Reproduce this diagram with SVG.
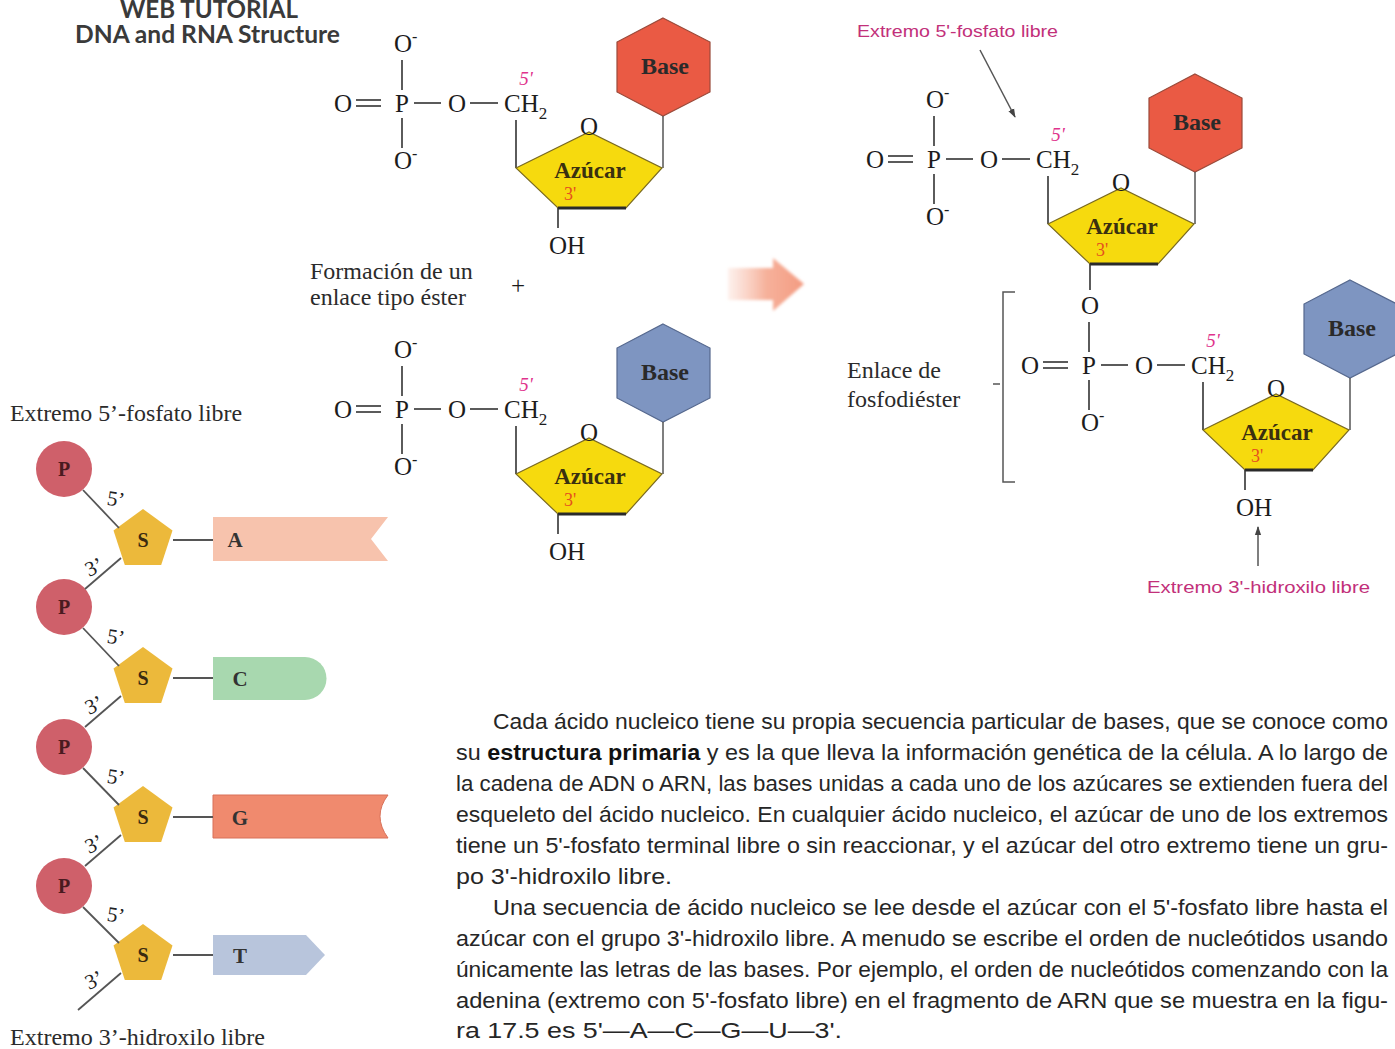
<svg xmlns="http://www.w3.org/2000/svg" xmlns:xlink="http://www.w3.org/1999/xlink" width="1395" height="1049" viewBox="0 0 1395 1049">
  <style>
    .chem { font-family: "Liberation Serif", serif; font-size: 25px; fill: #1c1c1c; }
    .mid { text-anchor: middle; }
    .bond { stroke: #333; stroke-width: 1.6; fill: none; }
    .thin { stroke: #555; stroke-width: 1.5; fill: none; }
    .sugar { fill: #F6DA0E; stroke: #7a6a20; stroke-width: 1.2; }
    .sugarEdge { stroke: #2a2a2a; stroke-width: 3.2; }
    .hexRed { fill: #EA5A44; stroke: #9a4a3a; stroke-width: 1.2; }
    .hexBlue { fill: #7E95C1; stroke: #55688e; stroke-width: 1.2; }
    .baseTxt { font-family: "Liberation Serif", serif; font-weight: bold; font-size: 24px; fill: #2a2a2a; text-anchor: middle; }
    .azu { font-family: "Liberation Serif", serif; font-weight: bold; font-size: 23px; fill: #3a3010; text-anchor: middle; }
    .five { font-family: "Liberation Serif", serif; font-style: italic; font-size: 19px; fill: #E0338C; text-anchor: middle; }
    .three { font-family: "Liberation Serif", serif; font-size: 18px; fill: #E5501E; text-anchor: middle; }
    .note { font-family: "Liberation Serif", serif; font-size: 24px; fill: #2b2b2b; }
    .magenta { font-family: "Liberation Sans", sans-serif; font-size: 17px; fill: #C2307A; }
    .head { font-family: Lato, "Liberation Sans", sans-serif; font-weight: bold; font-size: 24px; fill: #3a3a3a; }
    .body { font-family: "Liberation Sans", sans-serif; font-size: 22px; fill: #262626; }
    .pCircle { fill: #CF606A; }
    .sPent { fill: #ECB93B; }
    .chainTxt { font-family: "Liberation Serif", serif; font-weight: bold; font-size: 20px; text-anchor: middle; }
    .chainLbl { font-family: "Liberation Serif", serif; font-size: 21px; fill: #222; text-anchor: middle; }
    .backbone { stroke: #555; stroke-width: 1.8; fill: none; }
    .baseLbl { font-family: "Liberation Serif", serif; font-weight: bold; font-size: 21px; fill: #333; text-anchor: middle; }
  </style>
  <defs>
    <marker id="arrowHead" viewBox="0 0 10 10" refX="9" refY="5" markerWidth="6" markerHeight="6" orient="auto">
      <path d="M0,1.5 L10,5 L0,8.5 z" fill="#444"/>
    </marker>
    <linearGradient id="arrowFade" x1="728" y1="0" x2="805" y2="0" gradientUnits="userSpaceOnUse">
      <stop offset="0" stop-color="#F7B8A4" stop-opacity="0.2"/>
      <stop offset="0.5" stop-color="#F5A88F" stop-opacity="0.9"/>
      <stop offset="1" stop-color="#F39A80"/>
    </linearGradient>
    <filter id="soft" x="-10%" y="-10%" width="120%" height="120%">
      <feGaussianBlur stdDeviation="1.4"/>
    </filter>

    <!-- phosphate row: O=P-O-CH2 with the lower O- and the 5' mark -->
    <g id="phosRow" class="chem">
      <text class="mid" x="343" y="112">O</text>
      <line class="bond" x1="356" y1="100" x2="381" y2="100"/>
      <line class="bond" x1="356" y1="106" x2="381" y2="106"/>
      <text class="mid" x="402" y="112">P</text>
      <line class="bond" x1="414" y1="103" x2="441" y2="103"/>
      <text class="mid" x="457" y="112">O</text>
      <line class="bond" x1="470" y1="103" x2="498" y2="103"/>
      <text x="504" y="112">CH<tspan font-size="17" dy="7">2</tspan></text>
      <line class="bond" x1="402" y1="60" x2="402" y2="90"/>
      <line class="bond" x1="402" y1="118" x2="402" y2="148"/>
      <text x="394" y="169">O<tspan font-size="16" dy="-10">-</tspan></text>
      <text class="five" x="526" y="85">5'</text>
    </g>

    <!-- sugar ring with ring oxygen, 3' mark and the stub to the base -->
    <g id="sugarRing">
      <line class="bond" x1="516" y1="120" x2="516" y2="168"/>
      <line class="thin" x1="663" y1="116" x2="663" y2="168"/>
      <polygon class="sugar" points="516,168 589,132 662,168 626,208 558,208"/>
      <line class="sugarEdge" x1="558" y1="208" x2="626" y2="208"/>
      <text class="chem mid" x="589" y="135" font-size="22">O</text>
      <text class="azu" x="590" y="178">Azúcar</text>
      <text class="three" x="570" y="200">3'</text>
    </g>

    <polygon id="hexShape" points="663,18 710,42 710,92 663,116 617,92 617,42"/>
    <polygon id="pentS" points="0,-31 29.5,-9.6 18.2,25.1 -18.2,25.1 -29.5,-9.6"/>
  </defs>

  <rect width="1395" height="1049" fill="#ffffff"/>

  <!-- tutorial header -->
  <g id="header">
    <text class="head" x="120" y="18" font-size="19" textLength="178" lengthAdjust="spacingAndGlyphs">WEB TUTORIAL</text>
    <text class="head" x="75" y="43" textLength="265" lengthAdjust="spacingAndGlyphs">DNA and RNA Structure</text>
  </g>

  <!-- first free nucleotide (red base) -->
  <g id="nucleotide-top">
    <text class="chem" x="394" y="52">O<tspan font-size="16" dy="-10">-</tspan></text>
    <use xlink:href="#phosRow"/>
    <use xlink:href="#hexShape" class="hexRed"/>
    <use xlink:href="#sugarRing"/>
    <text class="baseTxt" x="665" y="74">Base</text>
    <line class="bond" x1="558" y1="208" x2="558" y2="228"/>
    <text class="chem mid" x="567" y="254">OH</text>
  </g>

  <!-- reaction label -->
  <g id="ester-label">
    <text class="note" x="310" y="279">Formación de un</text>
    <text class="note" x="310" y="305">enlace tipo éster</text>
    <text class="chem mid" x="518" y="294" font-size="22">+</text>
  </g>

  <!-- second free nucleotide (blue base) -->
  <g id="nucleotide-bottom" transform="translate(0,306)">
    <text class="chem" x="394" y="52">O<tspan font-size="16" dy="-10">-</tspan></text>
    <use xlink:href="#phosRow"/>
    <use xlink:href="#hexShape" class="hexBlue"/>
    <use xlink:href="#sugarRing"/>
    <text class="baseTxt" x="665" y="74">Base</text>
    <line class="bond" x1="558" y1="208" x2="558" y2="228"/>
    <text class="chem mid" x="567" y="254">OH</text>
  </g>

  <!-- reaction arrow -->
  <g id="reaction-arrow" filter="url(#soft)">
    <path d="M728,268 H773 V258 L804,284 L773,311 V300 H728 Z" fill="url(#arrowFade)"/>
  </g>

  <!-- dinucleotide: 5' unit -->
  <g id="dinucleotide-5prime" transform="translate(532,56)">
    <text class="chem" x="394" y="52">O<tspan font-size="16" dy="-10">-</tspan></text>
    <use xlink:href="#phosRow"/>
    <use xlink:href="#hexShape" class="hexRed"/>
    <use xlink:href="#sugarRing"/>
    <text class="baseTxt" x="665" y="74">Base</text>
  </g>

  <!-- dinucleotide: 3' unit -->
  <g id="dinucleotide-3prime" transform="translate(687,262)">
    <text class="chem mid" x="403" y="52">O</text>
    <use xlink:href="#phosRow"/>
    <use xlink:href="#hexShape" class="hexBlue"/>
    <use xlink:href="#sugarRing"/>
    <text class="baseTxt" x="665" y="74">Base</text>
    <line class="bond" x1="558" y1="208" x2="558" y2="228"/>
    <text class="chem mid" x="567" y="254">OH</text>
  </g>

  <!-- phosphodiester bracket and labels -->
  <g id="phosphodiester-label">
    <path class="thin" d="M1015,292 H1003 V482 H1015"/>
    <line class="thin" x1="993" y1="384" x2="1000" y2="384"/>
    <text class="note" x="847" y="378">Enlace de</text>
    <text class="note" x="847" y="407">fosfodiéster</text>
  </g>

  <g id="end-labels-right">
    <text class="magenta" x="857" y="37" textLength="201" lengthAdjust="spacingAndGlyphs">Extremo 5'-fosfato libre</text>
    <text class="magenta" x="1147" y="593" textLength="223" lengthAdjust="spacingAndGlyphs">Extremo 3'-hidroxilo libre</text>
  </g>

  <!-- strand schematic -->
  <g id="strand-labels">
    <text class="note" x="10" y="421" font-size="23" textLength="232" lengthAdjust="spacingAndGlyphs">Extremo 5’-fosfato libre</text>
    <text class="note" x="10" y="1045" font-size="23" textLength="255" lengthAdjust="spacingAndGlyphs">Extremo 3’-hidroxilo libre</text>
  </g>

  <g id="phosphate-1"><circle class="pCircle" cx="64" cy="469" r="28"/><text class="chainTxt" x="64" y="476" fill="#4a1a20">P</text></g>
  <g id="phosphate-2"><circle class="pCircle" cx="64" cy="607" r="28"/><text class="chainTxt" x="64" y="614" fill="#4a1a20">P</text></g>
  <g id="phosphate-3"><circle class="pCircle" cx="64" cy="747" r="28"/><text class="chainTxt" x="64" y="754" fill="#4a1a20">P</text></g>
  <g id="phosphate-4"><circle class="pCircle" cx="64" cy="886" r="28"/><text class="chainTxt" x="64" y="893" fill="#4a1a20">P</text></g>

  <g id="sugar-1"><use xlink:href="#pentS" class="sPent" transform="translate(143,540)"/><text class="chainTxt" x="143" y="547" fill="#3a2a10">S</text></g>
  <g id="sugar-2"><use xlink:href="#pentS" class="sPent" transform="translate(143,678)"/><text class="chainTxt" x="143" y="685" fill="#3a2a10">S</text></g>
  <g id="sugar-3"><use xlink:href="#pentS" class="sPent" transform="translate(143,817)"/><text class="chainTxt" x="143" y="824" fill="#3a2a10">S</text></g>
  <g id="sugar-4"><use xlink:href="#pentS" class="sPent" transform="translate(143,955)"/><text class="chainTxt" x="143" y="962" fill="#3a2a10">S</text></g>

  <g id="base-A">
    <path d="M213,517 H388 L371,539 L388,561 H213 Z" fill="#F7C3AD"/>
    <text class="baseLbl" x="235" y="547">A</text>
  </g>
  <g id="base-C">
    <path d="M213,657 H305 A21.5,21.5 0 0 1 305,700 H213 Z" fill="#A8D8AF"/>
    <text class="baseLbl" x="240" y="686">C</text>
  </g>
  <g id="base-G">
    <path d="M213,795 H388 Q372,816 388,838 H213 Z" fill="#F08A6E" stroke="#d87058" stroke-width="1"/>
    <text class="baseLbl" x="240" y="825">G</text>
  </g>
  <g id="base-T">
    <path d="M213,935 H306 L325,955 L306,975 H213 Z" fill="#B8C5DC"/>
    <text class="baseLbl" x="240" y="963">T</text>
  </g>

  <!-- connectors -->
  <g id="connectors">
    <line class="backbone" x1="83" y1="490" x2="119" y2="528"/>
    <line class="backbone" x1="121" y1="558" x2="85" y2="589"/>
    <line class="backbone" x1="83" y1="628" x2="119" y2="666"/>
    <line class="backbone" x1="121" y1="696" x2="85" y2="727"/>
    <line class="backbone" x1="83" y1="768" x2="119" y2="805"/>
    <line class="backbone" x1="121" y1="835" x2="85" y2="866"/>
    <line class="backbone" x1="83" y1="907" x2="119" y2="943"/>
    <line class="backbone" x1="121" y1="973" x2="78" y2="1010"/>

    <line class="backbone" x1="173" y1="540" x2="213" y2="540"/>
    <line class="backbone" x1="173" y1="678" x2="213" y2="678"/>
    <line class="backbone" x1="173" y1="817" x2="213" y2="817"/>
    <line class="backbone" x1="173" y1="955" x2="213" y2="955"/>

    <line class="bond" x1="1090" y1="264" x2="1090" y2="290"/>

    <line class="thin" x1="980" y1="50" x2="1015" y2="117" marker-end="url(#arrowHead)"/>
    <line class="thin" x1="1258" y1="566" x2="1258" y2="527" marker-end="url(#arrowHead)"/>
  </g>

  <g id="backbone-labels">
    <text class="chainLbl" x="116" y="506" transform="rotate(8 116 499)">5’</text>
    <text class="chainLbl" x="94" y="574" transform="rotate(-25 94 567)">3’</text>
    <text class="chainLbl" x="116" y="644" transform="rotate(8 116 637)">5’</text>
    <text class="chainLbl" x="94" y="712" transform="rotate(-25 94 705)">3’</text>
    <text class="chainLbl" x="116" y="784" transform="rotate(8 116 777)">5’</text>
    <text class="chainLbl" x="94" y="851" transform="rotate(-25 94 844)">3’</text>
    <text class="chainLbl" x="116" y="922" transform="rotate(8 116 915)">5’</text>
    <text class="chainLbl" x="94" y="987" transform="rotate(-25 94 980)">3’</text>
  </g>

  <!-- explanatory paragraph -->
  <g id="paragraph" class="body">
    <text x="493" y="729" textLength="895" lengthAdjust="spacingAndGlyphs">Cada ácido nucleico tiene su propia secuencia particular de bases, que se conoce como</text>
    <text x="456" y="760" textLength="932" lengthAdjust="spacingAndGlyphs">su <tspan font-weight="bold" fill="#111">estructura primaria</tspan> y es la que lleva la información genética de la célula. A lo largo de</text>
    <text x="456" y="791" textLength="932" lengthAdjust="spacingAndGlyphs">la cadena de ADN o ARN, las bases unidas a cada uno de los azúcares se extienden fuera del</text>
    <text x="456" y="822" textLength="932" lengthAdjust="spacingAndGlyphs">esqueleto del ácido nucleico. En cualquier ácido nucleico, el azúcar de uno de los extremos</text>
    <text x="456" y="853" textLength="932" lengthAdjust="spacingAndGlyphs">tiene un 5'-fosfato terminal libre o sin reaccionar, y el azúcar del otro extremo tiene un gru-</text>
    <text x="456" y="884" textLength="216" lengthAdjust="spacingAndGlyphs">po 3'-hidroxilo libre.</text>
    <text x="493" y="915" textLength="895" lengthAdjust="spacingAndGlyphs">Una secuencia de ácido nucleico se lee desde el azúcar con el 5'-fosfato libre hasta el</text>
    <text x="456" y="946" textLength="932" lengthAdjust="spacingAndGlyphs">azúcar con el grupo 3'-hidroxilo libre. A menudo se escribe el orden de nucleótidos usando</text>
    <text x="456" y="977" textLength="932" lengthAdjust="spacingAndGlyphs">únicamente las letras de las bases. Por ejemplo, el orden de nucleótidos comenzando con la</text>
    <text x="456" y="1008" textLength="932" lengthAdjust="spacingAndGlyphs">adenina (extremo con 5'-fosfato libre) en el fragmento de ARN que se muestra en la figu-</text>
    <text x="456" y="1038" textLength="386" lengthAdjust="spacingAndGlyphs">ra 17.5 es 5'—A—C—G—U—3'.</text>
  </g>
</svg>
